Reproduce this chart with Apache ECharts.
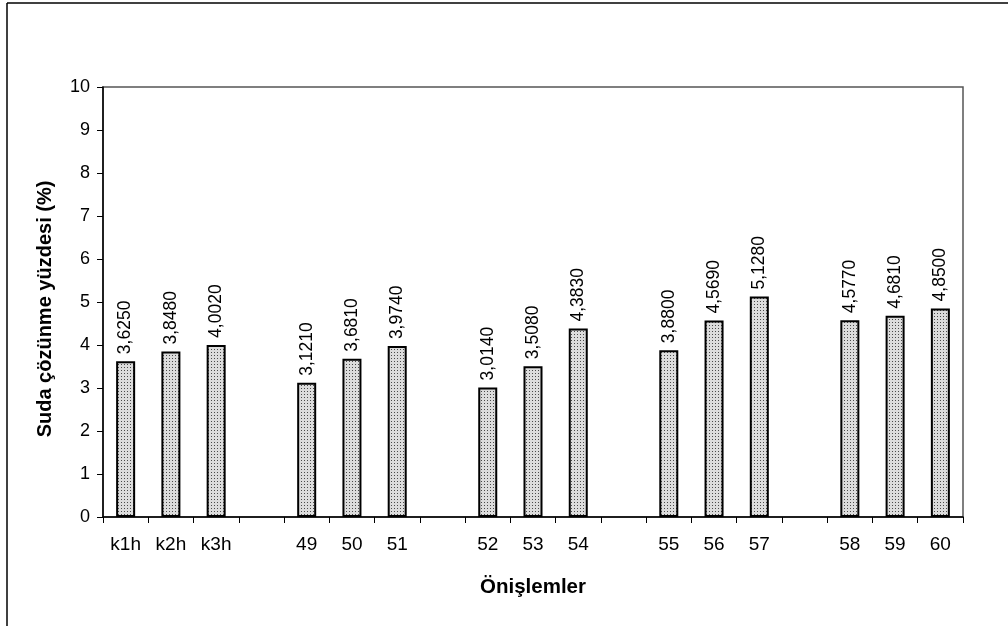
<!DOCTYPE html>
<html>
<head>
<meta charset="utf-8">
<script src="https://cdn.jsdelivr.net/npm/echarts@6/dist/echarts.min.js"></script>
<style>
  html, body { margin: 0; padding: 0; background: #fff; }
  #chart { width: 1008px; height: 626px; }
</style>
</head>
<body>
<div id="chart"></div>
<script>
// Treatment groups, with blank slots separating the groups
const categories = ['k1h', 'k2h', 'k3h', '', '49', '50', '51', '', '52', '53', '54', '', '55', '56', '57', '', '58', '59', '60'];
// Water solubility (%) per treatment; null for the blank separator slots
const values = [3.625, 3.848, 4.002, null, 3.121, 3.681, 3.974, null, 3.014, 3.508, 4.383, null, 3.880, 4.569, 5.128, null, 4.577, 4.681, 4.850];
const yTicks = [0, 1, 2, 3, 4, 5, 6, 7, 8, 9, 10];
const xTitle = 'Önişlemler';
const yTitle = 'Suda çözünme yüzdesi (%)';

// Stippled fill for the bars
function makeDots() {
  const c = document.createElement('canvas');
  c.width = 3; c.height = 3;
  const g = c.getContext('2d');
  g.fillStyle = '#dcdcdc';
  g.fillRect(0, 0, 3, 3);
  g.fillStyle = '#4a4a4a';
  g.fillRect(1, 1, 1, 1);
  return c;
}

const font = '"Liberation Sans", Arial, sans-serif';
const chart = echarts.init(document.getElementById('chart'));
chart.setOption({
  animation: false,
  grid: { left: 103, top: 87, right: 45, bottom: 109, show: true, borderColor: '#555', borderWidth: 1.5, backgroundColor: 'transparent' },
  xAxis: {
    type: 'category',
    data: categories,
    name: xTitle,
    nameLocation: 'middle',
    nameGap: 60,
    nameTextStyle: { fontFamily: font, fontSize: 20.5, fontWeight: 'bold', color: '#000' },
    axisLine: { lineStyle: { color: '#000', width: 1.5 } },
    axisTick: { show: true, length: 6, interval: 0, lineStyle: { color: '#000' } },
    axisLabel: { interval: 0, fontFamily: font, fontSize: 19, color: '#000', margin: 18 }
  },
  yAxis: {
    type: 'value',
    min: yTicks[0],
    max: yTicks[yTicks.length - 1],
    interval: 1,
    axisLine: { show: true, lineStyle: { color: '#000', width: 1.5 } },
    axisTick: { show: true, length: 6, lineStyle: { color: '#000' } },
    axisLabel: { fontFamily: font, fontSize: 18, color: '#000', margin: 13 },
    splitLine: { show: false }
  },
  series: [{
    type: 'bar',
    data: values,
    barWidth: '42%',
    itemStyle: {
      color: { image: makeDots(), repeat: 'repeat' },
      borderColor: '#000',
      borderWidth: 2
    },
    label: {
      show: true,
      position: 'top',
      rotate: 90,
      align: 'left',
      verticalAlign: 'middle',
      distance: 7,
      fontFamily: font,
      fontSize: 17.5,
      color: '#000',
      formatter: p => p.value == null ? '' : p.value.toFixed(4).replace('.', ',')
    }
  }],
  graphic: [
    { type: 'line', shape: { x1: 7, y1: 3, x2: 1008, y2: 3 }, style: { stroke: '#000', lineWidth: 1.5 } },
    { type: 'line', shape: { x1: 7, y1: 3, x2: 7, y2: 626 }, style: { stroke: '#000', lineWidth: 1.5 } },
    // vertical value-axis title
    {
      type: 'text', x: 45, y: 309, rotation: Math.PI / 2,
      style: { text: yTitle, font: 'bold 20px ' + font, fill: '#000', align: 'center', verticalAlign: 'middle' }
    }
  ]
});
</script>
</body>
</html>
